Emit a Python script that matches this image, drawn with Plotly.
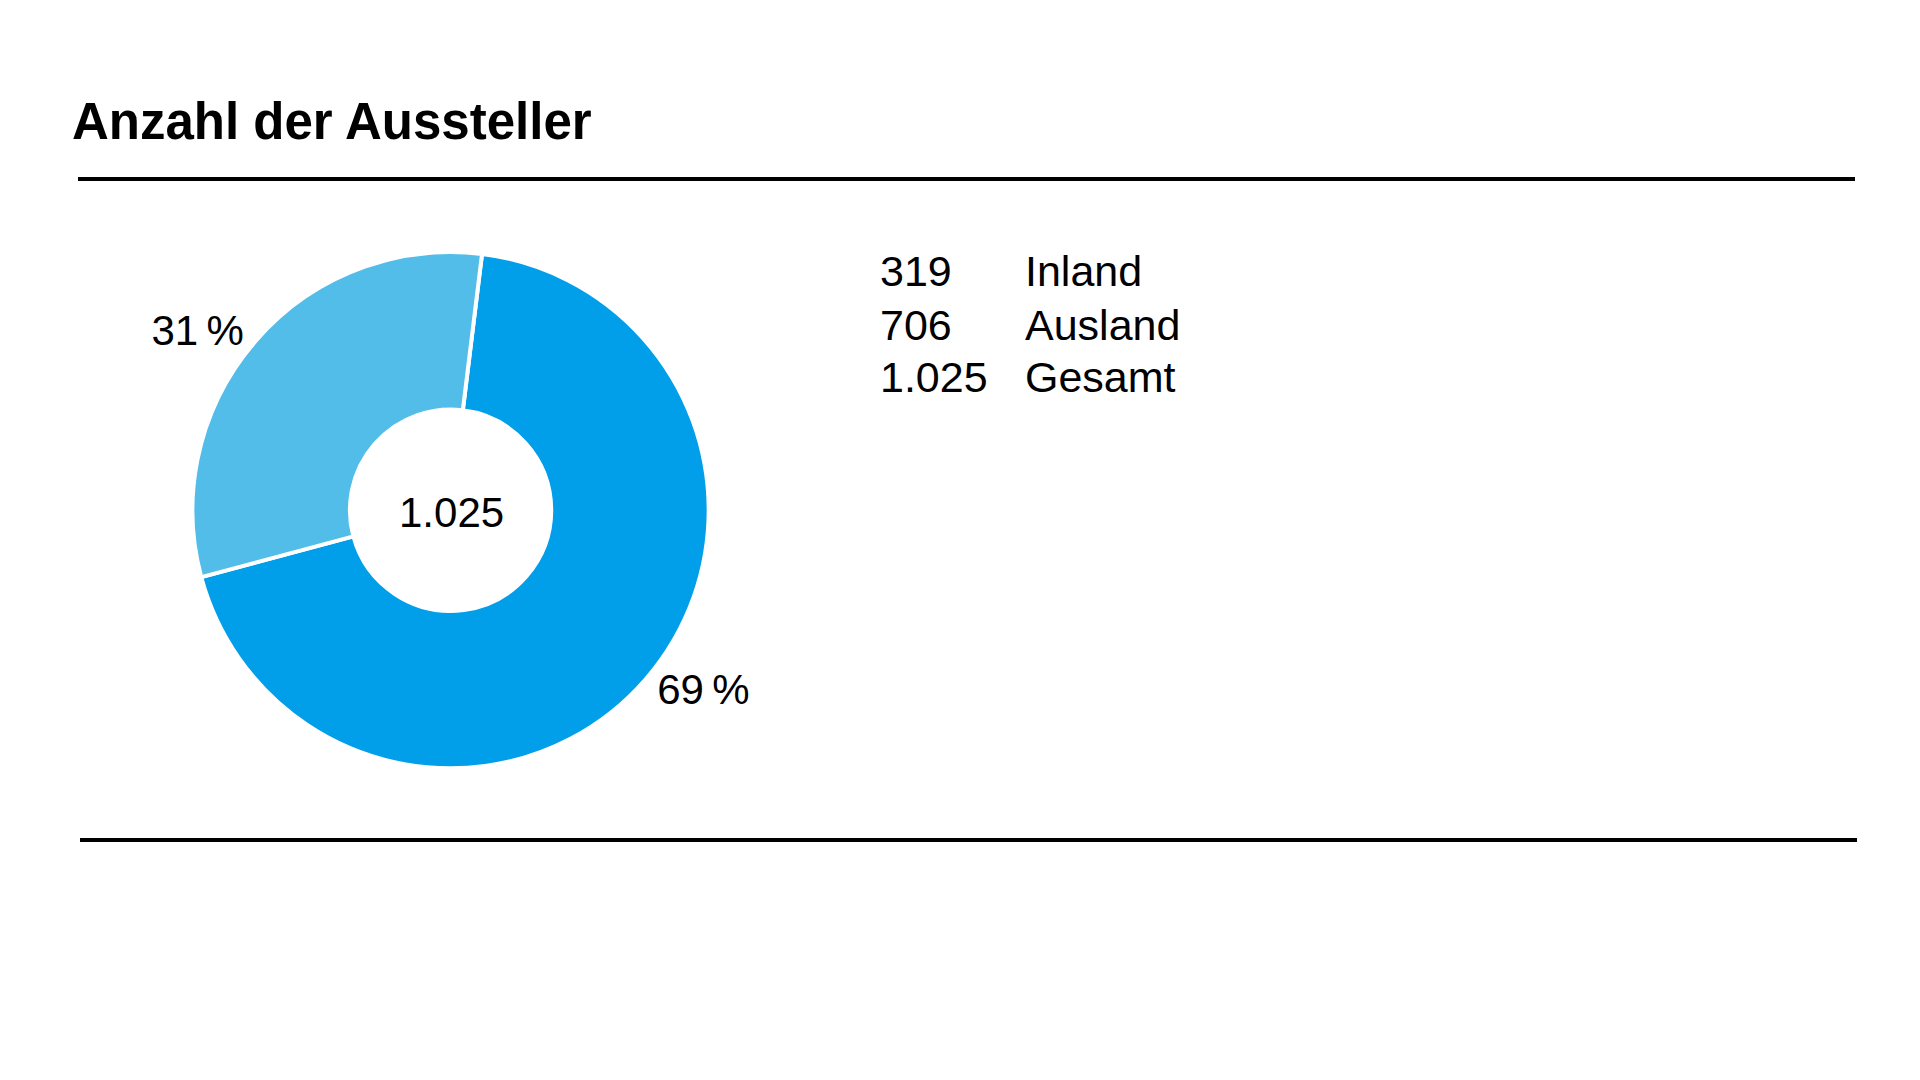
import plotly.graph_objects as go

labels = ["Ausland", "Inland"]
values = [706, 319]
colors = ["#019FEA", "#52BDE8"]
total_label = "1.025"
table_numbers = ["319", "706", "1.025"]
table_labels = ["Inland", "Ausland", "Gesamt"]

total = sum(values)
pct_text = [f"{round(v / total * 100)}\u2009%" for v in values]

FONT = "Liberation Sans Narrow, Arial Narrow, sans-serif"

fig = go.Figure(
    go.Pie(
        labels=labels,
        values=values,
        hole=0.39,
        sort=False,
        direction="clockwise",
        rotation=7,
        marker=dict(colors=colors, line=dict(color="white", width=4)),
        text=pct_text,
        textinfo="text",
        textposition="outside",
        textfont=dict(family=FONT, size=42, color="black"),
        domain=dict(x=[0.096, 0.365], y=[0.296, 0.774]),
        showlegend=False,
        hoverinfo="label+value",
    )
)

shapes = [
    dict(type="line", xref="paper", yref="paper", x0=70 / 1920, x1=1847 / 1920,
         y0=1 - 171 / 1080, y1=1 - 171 / 1080, line=dict(color="black", width=4)),
    dict(type="line", xref="paper", yref="paper", x0=72 / 1920, x1=1849 / 1920,
         y0=1 - 832 / 1080, y1=1 - 832 / 1080, line=dict(color="black", width=4)),
]

annotations = [
    dict(text="Anzahl der Aussteller", x=62 / 1920, y=1 - 114 / 1080, xref="paper", yref="paper",
         xanchor="left", yanchor="middle", showarrow=False,
         font=dict(family=FONT, size=51, color="black", weight="bold")),
    dict(text=total_label, x=0.231, y=0.533, xref="paper", yref="paper",
         xanchor="center", yanchor="middle", showarrow=False,
         font=dict(family=FONT, size=42, color="black")),
]
row_y = [263, 317, 369]
for num, lab, ry in zip(table_numbers, table_labels, row_y):
    annotations.append(dict(text=num, x=870 / 1920, y=1 - ry / 1080, xref="paper", yref="paper",
                            xanchor="left", yanchor="middle", showarrow=False,
                            font=dict(family=FONT, size=43, color="black")))
    annotations.append(dict(text=lab, x=1015 / 1920, y=1 - ry / 1080, xref="paper", yref="paper",
                            xanchor="left", yanchor="middle", showarrow=False,
                            font=dict(family=FONT, size=43, color="black")))

fig.update_layout(
    width=1920, height=1080,
    margin=dict(l=0, r=0, t=0, b=0),
    paper_bgcolor="white", plot_bgcolor="white",
    shapes=shapes, annotations=annotations,
)

fig.write_html("out.html")
